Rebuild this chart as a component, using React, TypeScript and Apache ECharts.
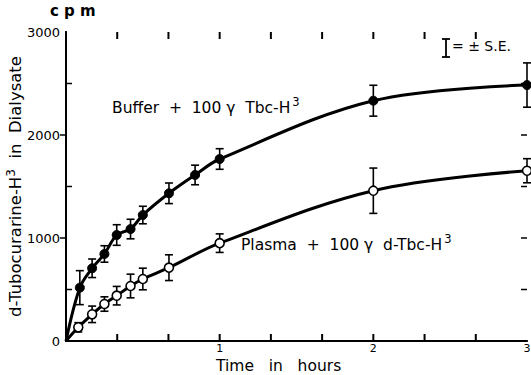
import React, { useEffect, useRef } from "react";
import * as echarts from "echarts";

const hoursBuffer = [0.09, 0.17, 0.25, 0.33, 0.42, 0.5, 0.67, 0.84, 1, 2, 3];
const cpmBuffer = [518, 706, 845, 1029, 1087, 1223, 1434, 1612, 1767, 2333, 2485];
const seBuffer = [165, 90, 80, 100, 95, 85, 100, 95, 100, 150, 215];

const hoursPlasma = [0.08, 0.17, 0.25, 0.33, 0.42, 0.5, 0.67, 1, 2, 3];
const cpmPlasma = [133, 259, 359, 440, 534, 602, 712, 950, 1459, 1653];
const sePlasma = [45, 80, 70, 90, 115, 105, 125, 90, 220, 117];

const yTicks = [0, 1000, 2000, 3000];
const xTickHours = [0.3333, 0.6667, 1, 1.3333, 1.6667, 2, 2.3333, 2.6667];
const yMinorCpm = [500, 1500, 2500];
const yMajorCpm = [1000, 2000];
const yRightCpm = [500, 1000, 1500, 2000, 2500];

const FONT = "DejaVu Sans";

export default function App() {
  const ref = useRef<HTMLDivElement>(null);
  useEffect(() => {
    if (!ref.current) return;
    const chart = echarts.init(ref.current, null, { renderer: "svg" });

    const bufferPts = hoursBuffer.map((h, i) => [h, cpmBuffer[i]]);
    const plasmaPts = hoursPlasma.map((h, i) => [h, cpmPlasma[i]]);
    const bufferErr = hoursBuffer.map((h, i) => [h, cpmBuffer[i], seBuffer[i]]);
    const plasmaErr = hoursPlasma.map((h, i) => [h, cpmPlasma[i], sePlasma[i]]);

    const errRender = (params: any, api: any) => {
      const x = api.value(0);
      const y = api.value(1);
      const e = api.value(2);
      const top = api.coord([x, y + e]);
      const bot = api.coord([x, y - e]);
      const w = 4;
      const st = { stroke: "#000", lineWidth: 1.6 };
      return {
        type: "group",
        children: [
          { type: "line", shape: { x1: top[0], y1: top[1], x2: bot[0], y2: bot[1] }, style: st },
          { type: "line", shape: { x1: top[0] - w, y1: top[1], x2: top[0] + w, y2: top[1] }, style: st },
          { type: "line", shape: { x1: bot[0] - w, y1: bot[1], x2: bot[0] + w, y2: bot[1] }, style: st },
        ],
      };
    };

    const xTickRender = (params: any, api: any) => {
      const h = api.value(0);
      const b = api.coord([h, 0]);
      const t = api.coord([h, 3000]);
      return {
        type: "group",
        children: [
          { type: "rect", shape: { x: b[0] - 1, y: b[1] - 7, width: 2, height: 7 }, style: { fill: "#000" } },
          { type: "rect", shape: { x: t[0] - 1, y: t[1], width: 2, height: 7 }, style: { fill: "#000" } },
        ],
      };
    };

    const tickSeries = (data: number[][], size: number[], offset: number[]) => ({
      type: "scatter",
      data,
      symbol: "rect",
      symbolSize: size,
      symbolOffset: offset,
      itemStyle: { color: "#000", opacity: 1 },
      silent: true,
      clip: false,
      z: 5,
    });

    const xLabel = (v: number) => {
      const r = Math.round(v);
      return Math.abs(v - r) < 1e-6 && r > 0 ? String(r) : "";
    };

    chart.setOption({
      animation: false,
      grid: { left: 66, right: 4, top: 32, bottom: 34, outerBoundsMode: "none", containLabel: false },
      xAxis: [
        {
          type: "value",
          min: 0,
          max: 3,
          interval: 1 / 3,
          position: "bottom",
          axisLine: { show: true, lineStyle: { color: "#000", width: 2 } },
          axisTick: { show: false },
          axisLabel: {
            formatter: xLabel,
            color: "#000",
            fontSize: 11,
            fontFamily: FONT,
            margin: 2,
            showMaxLabel: true,
          },
          splitLine: { show: false },
        },
        {
          type: "value",
          min: 0,
          max: 3,
          interval: 1 / 3,
          position: "top",
          axisLine: { show: true, lineStyle: { color: "#000", width: 1.5 } },
          axisTick: { show: false },
          axisLabel: { show: false },
          splitLine: { show: false },
        },
      ],
      yAxis: [
        {
          type: "value",
          min: 0,
          max: 3000,
          interval: 500,
          position: "left",
          axisLine: { show: true, lineStyle: { color: "#000", width: 2 } },
          axisTick: { show: false },
          axisLabel: {
            formatter: (v: number) => (yTicks.includes(v) ? String(v) : ""),
            color: "#000",
            fontSize: 13,
            fontFamily: FONT,
            margin: 6,
          },
          splitLine: { show: false },
          name: "d-Tubocurarine-H{s|3}  in  Dialysate",
          nameLocation: "middle",
          nameRotate: 90,
          nameGap: 40,
          nameMoveOverlap: false,
          nameTextStyle: {
            color: "#000",
            fontSize: 16.5,
            fontFamily: FONT,
            rich: {
              s: { fontSize: 12, fontFamily: FONT, color: "#000", padding: [0, 0, 9, 0] },
            },
          },
        },
        {
          type: "value",
          min: 0,
          max: 3000,
          interval: 500,
          position: "right",
          axisLine: { show: true, lineStyle: { color: "#000", width: 2 } },
          axisTick: { show: false },
          axisLabel: { show: false },
          splitLine: { show: false },
        },
      ],
      graphic: [
        {
          type: "text",
          left: 50,
          top: 3,
          style: { text: "c p m", fontSize: 15, fontWeight: "bold", fontFamily: FONT, fill: "#000" },
        },
        {
          type: "text",
          left: 216,
          top: 358,
          style: { text: "Time   in   hours", fontSize: 15.5, fontFamily: FONT, fill: "#000" },
        },
        {
          type: "text",
          left: 112,
          top: 96,
          style: {
            text: "{a|Buffer  +  100 γ  Tbc-H}{s|3}",
            rich: {
              a: { fontSize: 15.5, fontFamily: FONT, fill: "#000", color: "#000" },
              s: { fontSize: 11.5, fontFamily: FONT, fill: "#000", color: "#000", padding: [0, 0, 11, 2] },
            },
          },
        },
        {
          type: "text",
          left: 241,
          top: 233,
          style: {
            text: "{a|Plasma  +  100 γ  d-Tbc-H}{s|3}",
            rich: {
              a: { fontSize: 15.5, fontFamily: FONT, fill: "#000", color: "#000" },
              s: { fontSize: 11.5, fontFamily: FONT, fill: "#000", color: "#000", padding: [0, 0, 11, 2] },
            },
          },
        },
        { type: "line", shape: { x1: 446, y1: 39, x2: 446, y2: 57 }, style: { stroke: "#000", lineWidth: 1.8 } },
        { type: "line", shape: { x1: 442, y1: 39, x2: 450, y2: 39 }, style: { stroke: "#000", lineWidth: 1.8 } },
        { type: "line", shape: { x1: 442, y1: 57, x2: 450, y2: 57 }, style: { stroke: "#000", lineWidth: 1.8 } },
        {
          type: "text",
          left: 452,
          top: 39,
          style: { text: "= ± S.E.", fontSize: 14, fontFamily: FONT, fill: "#000" },
        },
      ],
      series: [
        {
          type: "line",
          data: [[0, 0], ...bufferPts],
          smooth: 0.35,
          showSymbol: false,
          lineStyle: { color: "#000", width: 3 },
          z: 2,
        },
        {
          type: "line",
          data: [[0, 0], ...plasmaPts],
          smooth: 0.35,
          showSymbol: false,
          lineStyle: { color: "#000", width: 3 },
          z: 2,
        },
        { type: "custom", data: bufferErr, renderItem: errRender, z: 3 },
        { type: "custom", data: plasmaErr, renderItem: errRender, z: 3 },
        {
          type: "scatter",
          data: bufferPts,
          symbol: "circle",
          symbolSize: 9,
          itemStyle: { color: "#000", borderColor: "#000", borderWidth: 1, opacity: 1 },
          z: 4,
        },
        {
          type: "scatter",
          data: plasmaPts,
          symbol: "circle",
          symbolSize: 9,
          itemStyle: { color: "#fff", borderColor: "#000", borderWidth: 1.6, opacity: 1 },
          z: 4,
        },
        tickSeries(yMinorCpm.map((c) => [0, c]), [6, 1.5], [3, 0]),
        tickSeries(yMajorCpm.map((c) => [0, c]), [6, 1.5], [-3, 0]),
        tickSeries(yRightCpm.map((c) => [3, c]), [6, 1.5], [-3, 0]),
        { type: "custom", data: xTickHours.map((h) => [h, 0, 0]), renderItem: xTickRender, z: 5 },
      ],
    });
    return () => chart.dispose();
  }, []);
  return (
    <div
      ref={ref}
      style={{ position: "fixed", left: 0, top: 0, width: 531, height: 375, background: "#fff" }}
    />
  );
}
